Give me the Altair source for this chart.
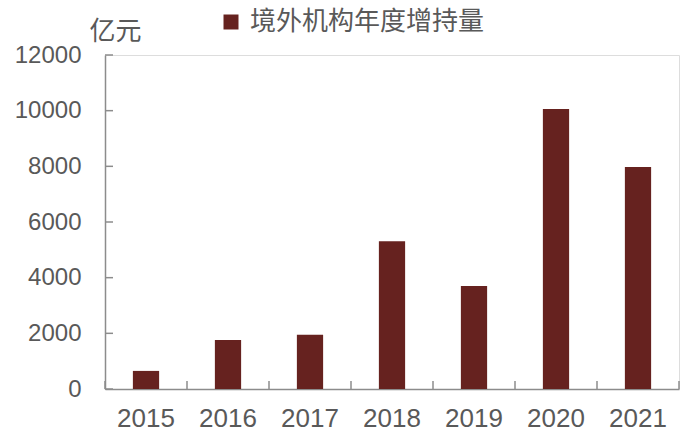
import altair as alt
import pandas as pd

years = ["2015", "2016", "2017", "2018", "2019", "2020", "2021"]
values = [650, 1760, 1950, 5310, 3700, 10060, 7980]
series_name = "境外机构年度增持量"
y_ticks = [0, 2000, 4000, 6000, 8000, 10000, 12000]

BAR = "#66221f"
AXIS = "#8c8c8c"
TEXT = "#595959"
FONT = "Liberation Sans, Noto Sans CJK SC, sans-serif"

W, H = 574, 334

df = pd.DataFrame({"year": years, "value": values, "series": [series_name] * len(years)})
ticks_df = pd.DataFrame({"v": y_ticks})
last_df = pd.DataFrame({"year": [years[-1]]})

xscale = alt.Scale(domain=years, paddingInner=0, paddingOuter=0)
yscale = alt.Scale(domain=[0, 12000], nice=False)

bars = alt.Chart(df).mark_bar(width={"band": 0.32}).encode(
    x=alt.X("year:N", scale=xscale, sort=years,
            axis=alt.Axis(title=None, labelAngle=0, ticks=False, domain=True,
                          domainColor=AXIS, domainWidth=1.5, labelFontSize=26,
                          labelColor=TEXT, labelFont=FONT, labelPadding=16)),
    y=alt.Y("value:Q", scale=yscale,
            axis=alt.Axis(values=y_ticks, title="亿元", titleAngle=0, titleAlign="left",
                          titleX=-16, titleY=-24, titleBaseline="middle",
                          titleFontSize=26, titleFontWeight="normal", titleColor=TEXT,
                          titleFont=FONT, grid=False, ticks=False, domainColor=AXIS,
                          domainWidth=1.5, labelFontSize=24, labelColor=TEXT,
                          labelFont=FONT, labelPadding=24, format="d")),
    color=alt.Color("series:N", scale=alt.Scale(domain=[series_name], range=[BAR]),
                    legend=alt.Legend(title=None, orient="none", legendX=113, legendY=-46,
                                      symbolType="square", symbolSize=225,
                                      symbolStrokeWidth=0, labelFontSize=26,
                                      labelLimit=0,
                                      labelColor=TEXT, labelFont=FONT, labelOffset=6)),
)

ytick_rules = alt.Chart(ticks_df).mark_rule(color=AXIS, strokeWidth=1.5).encode(
    y=alt.Y("v:Q", scale=yscale),
    x=alt.value(0), x2=alt.value(8),
)

xtick_rules = alt.Chart(df).mark_rule(color=AXIS, strokeWidth=1.5).encode(
    x=alt.X("year:N", scale=xscale, sort=years, bandPosition=0),
    y=alt.value(H - 8), y2=alt.value(H),
)

xtick_end = alt.Chart(last_df).mark_rule(color=AXIS, strokeWidth=1.5).encode(
    x=alt.X("year:N", scale=xscale, sort=years, bandPosition=1),
    y=alt.value(H - 8), y2=alt.value(H),
)

chart = alt.layer(bars, ytick_rules, xtick_rules, xtick_end).properties(
    width=W, height=H,
    autosize=alt.AutoSizeParams(type="none"),
    padding={"left": 105, "top": 55, "right": 21, "bottom": 58},
).configure_view(stroke=None).configure(background="white")

chart.save("out.html", embed_options={"renderer": "svg", "actions": False})
